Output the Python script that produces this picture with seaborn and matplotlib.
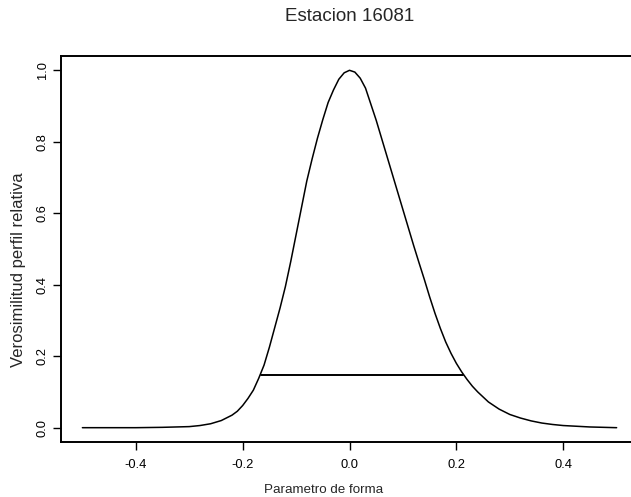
import numpy as np
import pandas as pd
import seaborn as sns
import matplotlib
matplotlib.use("Agg")
import matplotlib.pyplot as plt

# profile likelihood of the shape parameter
shape_param = [-0.50, -0.45, -0.40, -0.35, -0.30, -0.28, -0.26, -0.24, -0.22, -0.21,
               -0.20, -0.19, -0.18, -0.17, -0.16, -0.15, -0.14, -0.13, -0.12, -0.11,
               -0.10, -0.09, -0.08, -0.07, -0.06, -0.05, -0.04, -0.03, -0.02, -0.01,
               0.00, 0.01, 0.02, 0.03, 0.04, 0.05, 0.06, 0.07, 0.08, 0.09,
               0.10, 0.11, 0.12, 0.13, 0.14, 0.15, 0.16, 0.17, 0.18, 0.19,
               0.20, 0.21, 0.22, 0.23, 0.24, 0.26, 0.28, 0.30, 0.32, 0.34,
               0.36, 0.38, 0.40, 0.45, 0.50]
rel_likelihood = [0.000, 0.000, 0.000, 0.001, 0.003, 0.006, 0.011, 0.020, 0.035, 0.046,
                  0.062, 0.082, 0.105, 0.138, 0.175, 0.225, 0.280, 0.335, 0.395, 0.465,
                  0.540, 0.615, 0.690, 0.752, 0.810, 0.862, 0.910, 0.945, 0.975, 0.993,
                  1.000, 0.995, 0.978, 0.950, 0.905, 0.860, 0.810, 0.760, 0.710, 0.660,
                  0.610, 0.560, 0.510, 0.462, 0.415, 0.366, 0.320, 0.278, 0.240, 0.208,
                  0.180, 0.156, 0.135, 0.116, 0.100, 0.072, 0.052, 0.037, 0.027, 0.019,
                  0.013, 0.009, 0.006, 0.002, 0.000]

# 95% interval cut
ci_x = [-0.166, 0.213]
ci_y = [0.147, 0.147]

x_ticks = [-0.4, -0.2, 0.0, 0.2, 0.4]
y_ticks = [0.0, 0.2, 0.4, 0.6, 0.8, 1.0]

df = pd.DataFrame({"x": shape_param, "y": rel_likelihood})
df_ci = pd.DataFrame({"x": ci_x, "y": ci_y})

sns.set_style("ticks")
plt.rcParams["font.family"] = ["Liberation Sans", "DejaVu Sans"]

fig = plt.figure(figsize=(6.31, 4.97), dpi=100)
ax = fig.add_axes([0.0967, 0.1107, 0.9144, 0.7766])

sns.lineplot(data=df, x="x", y="y", color="black", linewidth=1.1, ax=ax)
sns.lineplot(data=df_ci, x="x", y="y", color="black", linewidth=1.4, ax=ax)

ax.set_xlim(-0.54, 0.54)
ax.set_ylim(-0.04, 1.04)
ax.set_xticks(x_ticks)
ax.set_xticklabels([f"{v:.1f}" for v in x_ticks])
ax.set_yticks(y_ticks)
ax.set_yticklabels([f"{v:.1f}" for v in y_ticks], rotation=90, va="center")

for s in ax.spines.values():
    s.set_linewidth(1.4)
    s.set_color("black")
ax.tick_params(axis="both", direction="out", length=6, width=1.0,
               labelsize=9.3, colors="black")
ax.tick_params(axis="x", pad=6)
ax.tick_params(axis="y", pad=3)

ax.set_xlabel("Parametro de forma", fontsize=9.6)
ax.set_ylabel("Verosimilitud perfil relativa", fontsize=12)
ax.xaxis.set_label_coords(0.4558, -0.11)
ax.yaxis.set_label_coords(-0.060, 0.446)
ax.set_title("Estacion 16081", fontsize=13.5, pad=25)

fig.savefig("out.png", dpi=100)
